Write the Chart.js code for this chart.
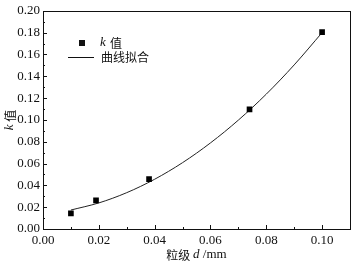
<!DOCTYPE html>
<html>
<head>
<meta charset="utf-8">
<script src="https://cdn.jsdelivr.net/npm/chart.js@4"></script>
<style>
  html, body { margin: 0; padding: 0; background: #fff; }
  #wrap { width: 356px; height: 268px; }
</style>
</head>
<body>
<div id="wrap"><canvas id="myChart" width="356" height="268"></canvas></div>
<script>
// measured k values
const sizeD = [0.010, 0.019, 0.038, 0.074, 0.100];
const kValue = [0.0143, 0.0262, 0.0457, 0.1096, 0.1805];

// fitted curve
const fitD = [0.010, 0.020, 0.030, 0.040, 0.050, 0.060, 0.070, 0.080, 0.090, 0.100];
const fitK = [0.0174, 0.0239, 0.0333, 0.0456, 0.0608, 0.0789, 0.0998, 0.1236, 0.1504, 0.1800];

const xMajor = [0, 0.02, 0.04, 0.06, 0.08, 0.10];
const xMinor = [0.01, 0.03, 0.05, 0.07, 0.09];
const yMajor = [0, 0.02, 0.04, 0.06, 0.08, 0.10, 0.12, 0.14, 0.16, 0.18, 0.20];
const yMinor = [0.01, 0.03, 0.05, 0.07, 0.09, 0.11, 0.13, 0.15, 0.17, 0.19];

const serif = '"Liberation Serif", "DejaVu Serif", serif';
const cjk = '"Noto Sans CJK SC", sans-serif';

// draw frame, inside ticks, axis titles and legend
const decor = {
  id: 'decor',
  afterDraw(chart) {
    const c = chart.ctx;
    const a = chart.chartArea;
    const xs = chart.scales.x;
    const ys = chart.scales.y;
    c.save();
    c.strokeStyle = '#111';
    c.lineWidth = 1;
    c.strokeRect(Math.round(a.left) + 0.5, Math.round(a.top) + 0.5,
      Math.round(a.right - a.left), Math.round(a.bottom - a.top));

    c.beginPath();
    xMajor.forEach((v) => {
      const px = Math.round(xs.getPixelForValue(v)) + 0.5;
      c.moveTo(px, a.bottom); c.lineTo(px, a.bottom - 4);
    });
    xMinor.forEach((v) => {
      const px = Math.round(xs.getPixelForValue(v)) + 0.5;
      c.moveTo(px, a.bottom); c.lineTo(px, a.bottom - 2);
    });
    yMajor.forEach((v) => {
      const py = Math.round(ys.getPixelForValue(v)) + 0.5;
      c.moveTo(a.left, py); c.lineTo(a.left + 4, py);
    });
    yMinor.forEach((v) => {
      const py = Math.round(ys.getPixelForValue(v)) + 0.5;
      c.moveTo(a.left, py); c.lineTo(a.left + 2, py);
    });
    c.stroke();

    c.fillStyle = '#111';
    c.textBaseline = 'middle';

    // x title: 粒级 d /mm
    const cx = (a.left + a.right) / 2;
    const parts = [
      ['粒级 ', '12px ' + cjk],
      ['d', 'italic 13px ' + serif],
      [' /mm', '13px ' + serif]
    ];
    let total = 0;
    parts.forEach((p) => { c.font = p[1]; total += c.measureText(p[0]).width; });
    let px = cx - total / 2;
    c.textAlign = 'left';
    parts.forEach((p) => {
      c.font = p[1];
      c.fillText(p[0], px, 255);
      px += c.measureText(p[0]).width;
    });

    // y title: k 值
    c.save();
    c.translate(10, (a.top + a.bottom) / 2);
    c.rotate(-Math.PI / 2);
    const yParts = [
      ['k', 'italic 13px ' + serif],
      [' 值', '12px ' + cjk]
    ];
    total = 0;
    yParts.forEach((p) => { c.font = p[1]; total += c.measureText(p[0]).width; });
    px = -total / 2;
    yParts.forEach((p) => {
      c.font = p[1];
      c.fillText(p[0], px, 0);
      px += c.measureText(p[0]).width;
    });
    c.restore();

    // legend
    c.fillRect(79, 40, 6, 6);
    c.font = 'italic 13px ' + serif;
    c.fillText('k', 100, 43);
    c.font = '12px ' + cjk;
    c.fillText('值', 110, 43);
    c.beginPath();
    c.moveTo(68, 57.5); c.lineTo(94, 57.5);
    c.stroke();
    c.fillText('曲线拟合', 101, 57);
    c.restore();
  }
};

const ctx = document.querySelector('#myChart');
new Chart(ctx, {
  type: 'scatter',
  data: {
    datasets: [
      {
        label: '曲线拟合',
        data: fitD.map((d, i) => ({ x: d, y: fitK[i] })),
        showLine: true,
        borderColor: '#222',
        borderWidth: 1,
        pointRadius: 0,
        cubicInterpolationMode: 'monotone',
        order: 2
      },
      {
        label: 'k 值',
        data: sizeD.map((d, i) => ({ x: d, y: kValue[i] })),
        pointStyle: 'rect',
        pointRadius: 4,
        backgroundColor: '#000',
        borderColor: '#000',
        borderWidth: 0,
        order: 1
      }
    ]
  },
  options: {
    responsive: false,
    animation: false,
    devicePixelRatio: 1,
    layout: { padding: { top: 10, right: 6, left: 0, bottom: 0 } },
    plugins: { legend: { display: false }, tooltip: { enabled: false } },
    scales: {
      x: {
        type: 'linear',
        min: 0,
        max: 0.11,
        grid: { display: false, drawTicks: false },
        border: { display: false },
        ticks: {
          stepSize: 0.02,
          includeBounds: false,
          autoSkip: false,
          maxRotation: 0,
          padding: 4,
          color: '#111',
          font: { family: serif, size: 13 },
          callback: (v) => v.toFixed(2)
        },
        afterFit: (s) => { s.height = 39; }
      },
      y: {
        type: 'linear',
        min: 0,
        max: 0.2,
        grid: { display: false, drawTicks: false },
        border: { display: false },
        ticks: {
          stepSize: 0.02,
          autoSkip: false,
          padding: 3,
          color: '#111',
          font: { family: serif, size: 13 },
          callback: (v) => v.toFixed(2)
        },
        afterFit: (s) => { s.width = 43; }
      }
    }
  },
  plugins: [decor]
});
</script>
</body>
</html>
